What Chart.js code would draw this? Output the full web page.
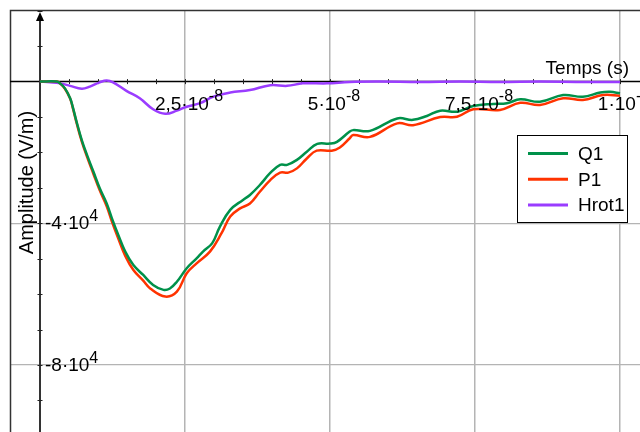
<!DOCTYPE html>
<html><head><meta charset="utf-8">
<script src="https://cdn.jsdelivr.net/npm/chart.js@4/dist/chart.umd.min.js"></script>
<style>html,body{margin:0;padding:0;background:#fff;overflow:hidden}#wrap{width:640px;height:432px;position:relative}</style>
</head><body><div id="wrap"><canvas id="c" width="640" height="432"></canvas></div>
<script>
// time in units of 1e-8 s, amplitude in units of 1e4 V/m
const q1Time   = [0, 0.29, 0.345, 0.43, 0.52, 0.57, 0.63, 0.72, 0.81, 0.92, 1.03, 1.15, 1.24, 1.35, 1.47, 1.61, 1.78, 1.95, 2.13, 2.24, 2.36, 2.53, 2.70, 2.81, 2.97, 3.10, 3.28, 3.50, 3.62, 3.79, 3.97, 4.14, 4.26, 4.43, 4.60, 4.78, 5.00, 5.12, 5.34, 5.40, 5.69, 6.16, 6.43, 6.67, 6.90, 7.19, 7.47, 7.81, 8.05, 8.28, 8.62, 9.02, 9.36, 9.66, 9.83, 10.0];
const q1Values = [0, 0, -0.05, -0.19, -0.47, -0.75, -1.13, -1.65, -2.07, -2.54, -3.01, -3.44, -3.86, -4.33, -4.80, -5.18, -5.46, -5.74, -5.88, -5.84, -5.65, -5.27, -4.99, -4.80, -4.56, -4.10, -3.62, -3.34, -3.20, -2.92, -2.58, -2.35, -2.35, -2.21, -1.98, -1.76, -1.75, -1.70, -1.41, -1.37, -1.39, -1.04, -1.08, -0.97, -0.82, -0.85, -0.69, -0.63, -0.61, -0.50, -0.57, -0.38, -0.43, -0.31, -0.29, -0.33];

const p1Time   = [0, 0.29, 0.345, 0.43, 0.52, 0.57, 0.63, 0.72, 0.81, 0.92, 1.03, 1.15, 1.24, 1.35, 1.47, 1.61, 1.78, 1.90, 2.16, 2.36, 2.53, 2.70, 2.93, 3.13, 3.28, 3.45, 3.62, 3.79, 3.97, 4.14, 4.28, 4.43, 4.60, 4.77, 5.03, 5.17, 5.34, 5.40, 5.69, 6.16, 6.43, 6.90, 7.19, 7.47, 7.93, 8.28, 8.62, 9.02, 9.36, 9.71, 10.0];
const p1Values = [0, 0, -0.05, -0.20, -0.48, -0.77, -1.16, -1.69, -2.12, -2.60, -3.07, -3.52, -3.95, -4.43, -4.92, -5.32, -5.62, -5.84, -6.07, -5.93, -5.41, -5.13, -4.80, -4.28, -3.81, -3.58, -3.44, -3.11, -2.78, -2.57, -2.57, -2.45, -2.17, -1.95, -1.95, -1.86, -1.60, -1.51, -1.56, -1.18, -1.23, -1.00, -0.99, -0.78, -0.80, -0.60, -0.66, -0.47, -0.52, -0.38, -0.40];

const hrotTime   = [0, 0.17, 0.345, 0.52, 0.72, 0.86, 1.03, 1.15, 1.26, 1.49, 1.72, 1.95, 2.16, 2.36, 2.53, 2.76, 2.98, 3.28, 3.62, 3.97, 4.26, 4.53, 4.95, 5.34, 5.86, 6.55, 7.24, 7.93, 8.62, 9.31, 10.0];
const hrotValues = [0, -0.02, -0.05, -0.12, -0.20, -0.14, -0.02, 0.03, -0.02, -0.26, -0.47, -0.78, -0.91, -0.82, -0.71, -0.61, -0.43, -0.31, -0.24, -0.10, -0.12, -0.05, -0.05, -0.01, 0.0, -0.01, 0.0, -0.01, 0.0, -0.01, -0.01];

const seriesNames = ['Q1', 'P1', 'Hrot1'];
const xTickValues = [2.5, 5, 7.5, 10];
const xTickLabels = ['2,5·10', '5·10', '7,5·10', '1·10'];
const xTickExponents = ['-8', '-8', '-8', '-7'];
const yTickValues = [-4, -8];
const yTickLabels = ['-4·10', '-8·10'];
const yTickExponents = ['4', '4'];
const xTitle = 'Temps (s)';
const yTitle = 'Amplitude (V/m)';

const FONT = "'Liberation Sans', Arial, Helvetica, sans-serif";
const colors = ['#00914a', '#ff3300', '#9a3cff'];

function pts(t, v) { return t.map((x, i) => ({x: x, y: v[i]})); }

function supText(ctx, base, exp, x, y, align, baseSize, expSize, rise) {
  ctx.font = baseSize + 'px ' + FONT;
  const wb = ctx.measureText(base).width;
  ctx.font = expSize + 'px ' + FONT;
  const we = ctx.measureText(exp).width;
  const start = align === 'center' ? x - (wb + we) / 2 : x;
  ctx.textAlign = 'left';
  ctx.textBaseline = 'alphabetic';
  ctx.font = baseSize + 'px ' + FONT;
  ctx.fillText(base, start, y);
  ctx.font = expSize + 'px ' + FONT;
  ctx.fillText(exp, start + wb, y - rise);
}

const decor = {
  id: 'decor',
  beforeDatasetsDraw(chart) {
    const ctx = chart.ctx, xs = chart.scales.x, ys = chart.scales.y, a = chart.chartArea;
    const x0 = Math.round(xs.getPixelForValue(0));
    const y0 = ys.getPixelForValue(0);
    ctx.save();
    ctx.strokeStyle = '#333';
    ctx.lineWidth = 1.5;
    ctx.beginPath();
    ctx.moveTo(a.left + 0.5, a.bottom); ctx.lineTo(a.left + 0.5, a.top + 0.5); ctx.lineTo(a.right, a.top + 0.5);
    ctx.stroke();
    ctx.strokeStyle = '#000';
    ctx.lineWidth = 1.5;
    ctx.beginPath(); ctx.moveTo(a.left, y0); ctx.lineTo(a.right, y0); ctx.stroke();
    ctx.strokeStyle = '#333';
    ctx.lineWidth = 2;
    ctx.beginPath(); ctx.moveTo(x0, a.top + 8); ctx.lineTo(x0, a.bottom); ctx.stroke();
    ctx.fillStyle = '#000';
    ctx.beginPath(); ctx.moveTo(x0, a.top + 2); ctx.lineTo(x0 - 4, a.top + 11); ctx.lineTo(x0 + 4, a.top + 11); ctx.closePath(); ctx.fill();
    ctx.strokeStyle = '#222';
    ctx.lineWidth = 1;
    for (let t = 0.5; t <= xs.max; t += 0.5) {
      const px = Math.round(xs.getPixelForValue(t)) + 0.5;
      ctx.beginPath(); ctx.moveTo(px, y0 - 2.5); ctx.lineTo(px, y0 + 2.5); ctx.stroke();
    }
    for (let v = Math.ceil(ys.min); v <= ys.max; v += 1) {
      if (v === 0) continue;
      const py = Math.round(ys.getPixelForValue(v)) + 0.5;
      ctx.beginPath(); ctx.moveTo(x0 - 2.5, py); ctx.lineTo(x0 + 2.5, py); ctx.stroke();
    }
    ctx.restore();
  },
  afterDatasetsDraw(chart) {
    const ctx = chart.ctx, xs = chart.scales.x, ys = chart.scales.y;
    const x0 = xs.getPixelForValue(0);
    const y0 = ys.getPixelForValue(0);
    ctx.save();
    ctx.fillStyle = '#000';
    xTickValues.forEach((v, i) => {
      supText(ctx, xTickLabels[i], xTickExponents[i], xs.getPixelForValue(v) + 4, y0 + 28, 'center', 19, 16, 9);
    });
    yTickValues.forEach((v, i) => {
      supText(ctx, yTickLabels[i], yTickExponents[i], x0 + 5, ys.getPixelForValue(v) + 6, 'left', 19, 16, 8);
    });
    ctx.font = '19px ' + FONT;
    ctx.textAlign = 'right';
    ctx.textBaseline = 'alphabetic';
    ctx.fillText(xTitle, 629, y0 - 8);
    ctx.save();
    ctx.translate(33, 182.5);
    ctx.rotate(-Math.PI / 2);
    ctx.font = '20px ' + FONT;
    ctx.textAlign = 'center';
    ctx.fillText(yTitle, 0, 0);
    ctx.restore();
    const lx = 517.5, ly = 135.5, lw = 110, lh = 87;
    ctx.fillStyle = '#fff';
    ctx.fillRect(lx, ly, lw, lh);
    ctx.strokeStyle = '#000';
    ctx.lineWidth = 1;
    ctx.strokeRect(lx, ly, lw, lh);
    chart.data.datasets.forEach((ds, i) => {
      const yy = 153.5 + i * 25.8;
      ctx.strokeStyle = ds.borderColor;
      ctx.lineWidth = 3;
      ctx.beginPath(); ctx.moveTo(528, yy); ctx.lineTo(568, yy); ctx.stroke();
      ctx.fillStyle = '#000';
      ctx.font = '19px ' + FONT;
      ctx.textAlign = 'left';
      ctx.textBaseline = 'middle';
      ctx.fillText(ds.label, 578, yy + 1);
    });
    ctx.restore();
  }
};

const gridColor = (c) => Math.abs(c.tick.value) < 1e-9 ? 'rgba(0,0,0,0)' : '#b4b4b4';

new Chart(document.getElementById('c'), {
  type: 'line',
  data: {
    datasets: [
      {label: seriesNames[0], data: pts(q1Time, q1Values), borderColor: colors[0]},
      {label: seriesNames[1], data: pts(p1Time, p1Values), borderColor: colors[1]},
      {label: seriesNames[2], data: pts(hrotTime, hrotValues), borderColor: colors[2]}
    ]
  },
  options: {
    responsive: false,
    animation: false,
    devicePixelRatio: 1,
    layout: {padding: {left: 10, top: 10, right: 0, bottom: 0}},
    elements: {
      line: {borderWidth: 2.5, tension: 0.4, fill: false},
      point: {radius: 0}
    },
    plugins: {legend: {display: false}, tooltip: {enabled: false}},
    scales: {
      x: {
        type: 'linear', min: -30 / 58, max: 600 / 58,
        ticks: {display: false, stepSize: 2.5, includeBounds: false},
        grid: {color: gridColor, lineWidth: 1.5, drawTicks: false},
        border: {display: false}
      },
      y: {
        type: 'linear', min: -350.4 / 35.42, max: 71.6 / 35.42,
        ticks: {display: false, stepSize: 4, includeBounds: false},
        grid: {color: gridColor, lineWidth: 1.2, drawTicks: false},
        border: {display: false}
      }
    }
  },
  plugins: [decor]
});
</script>
</body></html>
